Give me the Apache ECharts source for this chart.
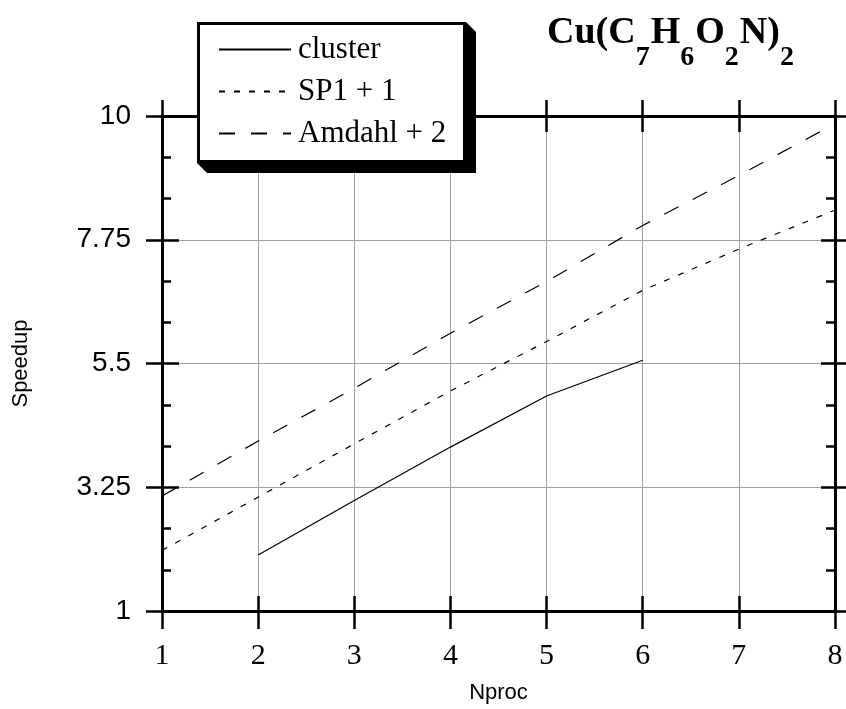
<!DOCTYPE html>
<html>
<head>
<meta charset="utf-8">
<script src="https://cdn.jsdelivr.net/npm/echarts@6/dist/echarts.min.js"></script>
<style>
html,body{margin:0;padding:0;background:#fff;}
#chart{width:846px;height:709px;}
</style>
</head>
<body>
<div id="chart"></div>
<script>
// ---- data ----
var nproc = [1, 2, 3, 4, 5, 6, 7, 8];
var cluster = [null, 2.02, 3.01, 3.98, 4.91, 5.56, null, null];
var sp1Plus1 = [2.10, 3.07, 4.04, 5.00, 5.90, 6.83, 7.58, 8.29];
var amdahlPlus2 = [3.09, 4.09, 5.05, 6.05, 6.99, 8.01, 8.92, 9.86];
var seriesNames = ['cluster', 'SP1 + 1', 'Amdahl + 2'];
var yTicks = [1, 3.25, 5.5, 7.75, 10];

function pairs(vals) {
  var out = [];
  for (var i = 0; i < nproc.length; i++) {
    if (vals[i] !== null) out.push([nproc[i], vals[i]]);
  }
  return out;
}

var chart = echarts.init(document.getElementById('chart'), null, {renderer: 'canvas'});

var axisLineStyle = {show: true, lineStyle: {color: '#000', width: 3}};
function xAx(pos, inside, len, extra) {
  var a = {
    type: 'value', position: pos, min: 1, max: 8, interval: 1,
    axisLine: axisLineStyle,
    axisTick: {show: true, inside: inside, length: len, lineStyle: {color: '#000', width: 2.5}},
    axisLabel: {show: false},
    splitLine: {show: false}
  };
  return Object.assign(a, extra || {});
}
function yAx(pos, inside, len, minor, extra) {
  var a = {
    type: 'value', position: pos, min: 1, max: 10, interval: 2.25,
    axisLine: axisLineStyle,
    axisTick: {show: true, inside: inside, length: len, lineStyle: {color: '#000', width: 2.5}},
    minorTick: {show: minor, splitNumber: 3, length: 9, lineStyle: {color: '#000', width: 2.5}},
    axisLabel: {show: false},
    splitLine: {show: false}
  };
  return Object.assign(a, extra || {});
}

var option = {
  backgroundColor: '#fff',
  animation: false,
  title: {
    text: '{m|Cu(C}{s|7}{m|H}{s|6}{m|O}{s|2}{m|N)}{s|2}',
    left: 542, top: 19,
    textStyle: {
      rich: {
        m: {fontFamily: 'Liberation Serif', fontWeight: 'bold', fontSize: 38, color: '#000', lineHeight: 38, padding: [0, 0, 20, 0]},
        s: {fontFamily: 'Liberation Serif', fontWeight: 'bold', fontSize: 28, color: '#000', lineHeight: 28, padding: [30, 1, 0, 0]}
      }
    }
  },
  graphic: [
    {type: 'polygon', z: 1, silent: true,
      shape: {points: [[197, 22], [466, 22], [476, 32], [476, 173], [207, 173], [197, 163]]},
      style: {fill: '#000'}},
    {type: 'rect', z: 2, silent: true,
      shape: {x: 198.5, y: 23.5, width: 266, height: 138},
      style: {fill: '#fff', stroke: '#000', lineWidth: 3}}
  ],
  legend: {
    orient: 'vertical',
    left: 197, top: 22, z: 10,
    padding: [12, 19, 12, 21],
    itemGap: 11,
    itemWidth: 72, itemHeight: 14,
    itemStyle: {opacity: 0},
    textStyle: {fontFamily: 'Liberation Serif', fontSize: 31, color: '#000', lineHeight: 31, padding: [0, 0, 0, 2]},
    data: seriesNames
  },
  grid: {left: 162, right: 11, top: 116, bottom: 92, containLabel: false},
  xAxis: [
    xAx('bottom', false, 18, {
      axisLabel: {show: true, margin: 30, color: '#000', fontFamily: 'Liberation Serif', fontSize: 30},
      splitLine: {show: true, lineStyle: {color: '#a0a0a0', width: 1}},
      name: 'Nproc', nameLocation: 'middle', nameGap: 71,
      nameTextStyle: {fontFamily: 'Liberation Sans', fontSize: 22, color: '#000'}
    }),
    xAx('bottom', true, 15),
    xAx('top', false, 16),
    xAx('top', true, 16)
  ],
  yAxis: [
    yAx('left', false, 16, false, {
      axisLabel: {show: true, margin: 31, color: '#000', fontFamily: 'Liberation Sans', fontSize: 28},
      splitLine: {show: true, lineStyle: {color: '#a0a0a0', width: 1}},
      name: 'Speedup', nameLocation: 'middle', nameGap: 130, nameRotate: 90,
      nameTextStyle: {fontFamily: 'Liberation Sans', fontSize: 22, color: '#000'}
    }),
    yAx('left', true, 17, true),
    yAx('right', false, 12, false),
    yAx('right', true, 14, true)
  ],
  series: [
    {name: seriesNames[0], type: 'line', data: pairs(cluster), symbol: 'none',
      lineStyle: {color: '#000', width: 1.2, type: 'solid'}, itemStyle: {color: '#000'}},
    {name: seriesNames[1], type: 'line', data: pairs(sp1Plus1), symbol: 'none',
      lineStyle: {color: '#000', width: 1.2, type: [6, 9]}, itemStyle: {color: '#000'}},
    {name: seriesNames[2], type: 'line', data: pairs(amdahlPlus2), symbol: 'none',
      lineStyle: {color: '#000', width: 1.2, type: [16, 16]}, itemStyle: {color: '#000'}}
  ]
};
chart.setOption(option);
</script>
</body>
</html>
